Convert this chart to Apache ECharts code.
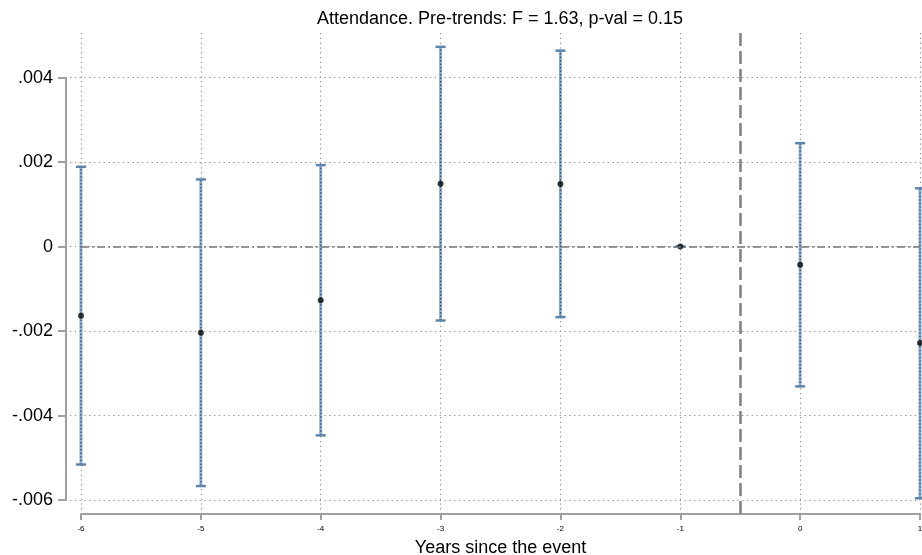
<!DOCTYPE html>
<html>
<head>
<meta charset="utf-8">
<script src="https://cdn.jsdelivr.net/npm/echarts@6/dist/echarts.min.js"></script>
<style>
  html, body { margin: 0; padding: 0; background: #fff; }
  #chart { width: 922px; height: 555px; }
</style>
</head>
<body>
<div id="chart"></div>
<script>
// event-time coefficients
const years = [-6, -5, -4, -3, -2, -1, 0, 1];
const estimate = [-0.00164, -0.00204, -0.00127, 0.00149, 0.00148, 0, -0.00043, -0.00228];
const ciLower = [-0.00516, -0.00567, -0.00447, -0.00175, -0.00167, 0, -0.00331, -0.00596];
const ciUpper = [0.00189, 0.00159, 0.00193, 0.00473, 0.00464, 0, 0.00245, 0.00138];

const yTickValues = [-0.006, -0.004, -0.002, 0, 0.002, 0.004];
const yTickLabels = ['-.006', '-.004', '-.002', '0', '.002', '.004'];
const xTickLabels = ['-6', '-5', '-4', '-3', '-2', '-1', '0', '1'];
const eventLine = -0.5;

const FONT = '"Liberation Sans", Arial, sans-serif';
const AXIS_GREY = '#a0a0a0';
const GRID_GREY = '#8c8c8c';

const chart = echarts.init(document.getElementById('chart'));

const ciData = years.map((x, i) => [x, ciLower[i], ciUpper[i]]);
const pointData = years.map((x, i) => [x, estimate[i]]);

function renderCI(params, api) {
  const x = api.value(0);
  const lo = api.coord([x, api.value(1)]);
  const hi = api.coord([x, api.value(2)]);
  const half = 5;
  return {
    type: 'group',
    children: [
      { type: 'line', shape: { x1: lo[0], y1: lo[1], x2: hi[0], y2: hi[1] },
        style: { stroke: '#8fadcc', lineWidth: 3 } },
      { type: 'line', shape: { x1: lo[0], y1: lo[1], x2: hi[0], y2: hi[1] },
        style: { stroke: '#2c4a6c', lineWidth: 1.2, lineDash: [1.5, 2] } },
      { type: 'line', shape: { x1: hi[0] - half, y1: hi[1], x2: hi[0] + half, y2: hi[1] },
        style: { stroke: '#5f84ab', lineWidth: 2.5 } },
      { type: 'line', shape: { x1: lo[0] - half, y1: lo[1], x2: lo[0] + half, y2: lo[1] },
        style: { stroke: '#5f84ab', lineWidth: 2.5 } }
    ]
  };
}

const option = {
  animation: false,
  title: {
    text: 'Attendance. Pre-trends: F = 1.63, p-val = 0.15',
    left: 495,
    top: 5,
    textAlign: 'center',
    textStyle: { fontFamily: FONT, fontSize: 18, fontWeight: 'normal', color: '#000' }
  },
  grid: [
    { left: 81, right: 2, top: 33, bottom: 41, outerBoundsMode: 'none' },
    { left: 70, right: 2, top: 77.7, bottom: 55, outerBoundsMode: 'none' }
  ],
  xAxis: [
    {
      gridIndex: 0, type: 'value', min: -6, max: 1, interval: 1,
      name: 'Years since the event', nameLocation: 'middle', nameGap: 25,
      nameTextStyle: { fontFamily: FONT, fontSize: 18, color: '#000' },
      axisLine: { show: true, onZero: false, lineStyle: { color: AXIS_GREY, width: 2 } },
      axisTick: { show: true, length: 6, lineStyle: { color: AXIS_GREY, width: 2 } },
      axisLabel: {
        fontFamily: FONT, fontSize: 8, color: '#000', margin: 11,
        formatter: v => xTickLabels[years.indexOf(Math.round(v))] ?? ''
      },
      splitLine: { show: true, lineStyle: { color: GRID_GREY, width: 1, type: [1.3, 3.5] } }
    },
    { gridIndex: 1, type: 'value', min: -6, max: 1, show: false }
  ],
  yAxis: [
    { gridIndex: 0, type: 'value', min: -0.006332, max: 0.005058, show: false },
    {
      gridIndex: 1, type: 'value', min: -0.006, max: 0.004, interval: 0.002, offset: 4,
      axisLine: { show: true, onZero: false, lineStyle: { color: AXIS_GREY, width: 2 } },
      axisTick: { show: true, length: 8, lineStyle: { color: AXIS_GREY, width: 2 } },
      axisLabel: {
        fontFamily: FONT, fontSize: 18, color: '#000', margin: 13,
        formatter: v => {
          const k = yTickValues.findIndex(t => Math.abs(t - v) < 1e-9);
          return k >= 0 ? yTickLabels[k] : '';
        }
      },
      splitLine: { show: true, lineStyle: { color: GRID_GREY, width: 1, type: [1.3, 3.5] } }
    }
  ],
  series: [
    {
      type: 'custom', xAxisIndex: 0, yAxisIndex: 0,
      renderItem: renderCI, data: ciData, z: 3,
      markLine: {
        silent: true, symbol: 'none', label: { show: false },
        data: [
          { yAxis: 0, lineStyle: { color: '#777', width: 1.5, type: [8, 3, 2, 3] } },
          { xAxis: eventLine, lineStyle: { color: '#808080', width: 2.5, type: [13, 5] } }
        ]
      }
    },
    {
      type: 'scatter', xAxisIndex: 0, yAxisIndex: 0,
      data: pointData, symbol: 'circle', symbolSize: 6,
      itemStyle: { color: '#0a0a0a' }, z: 4
    }
  ]
};

chart.setOption(option);
</script>
</body>
</html>
